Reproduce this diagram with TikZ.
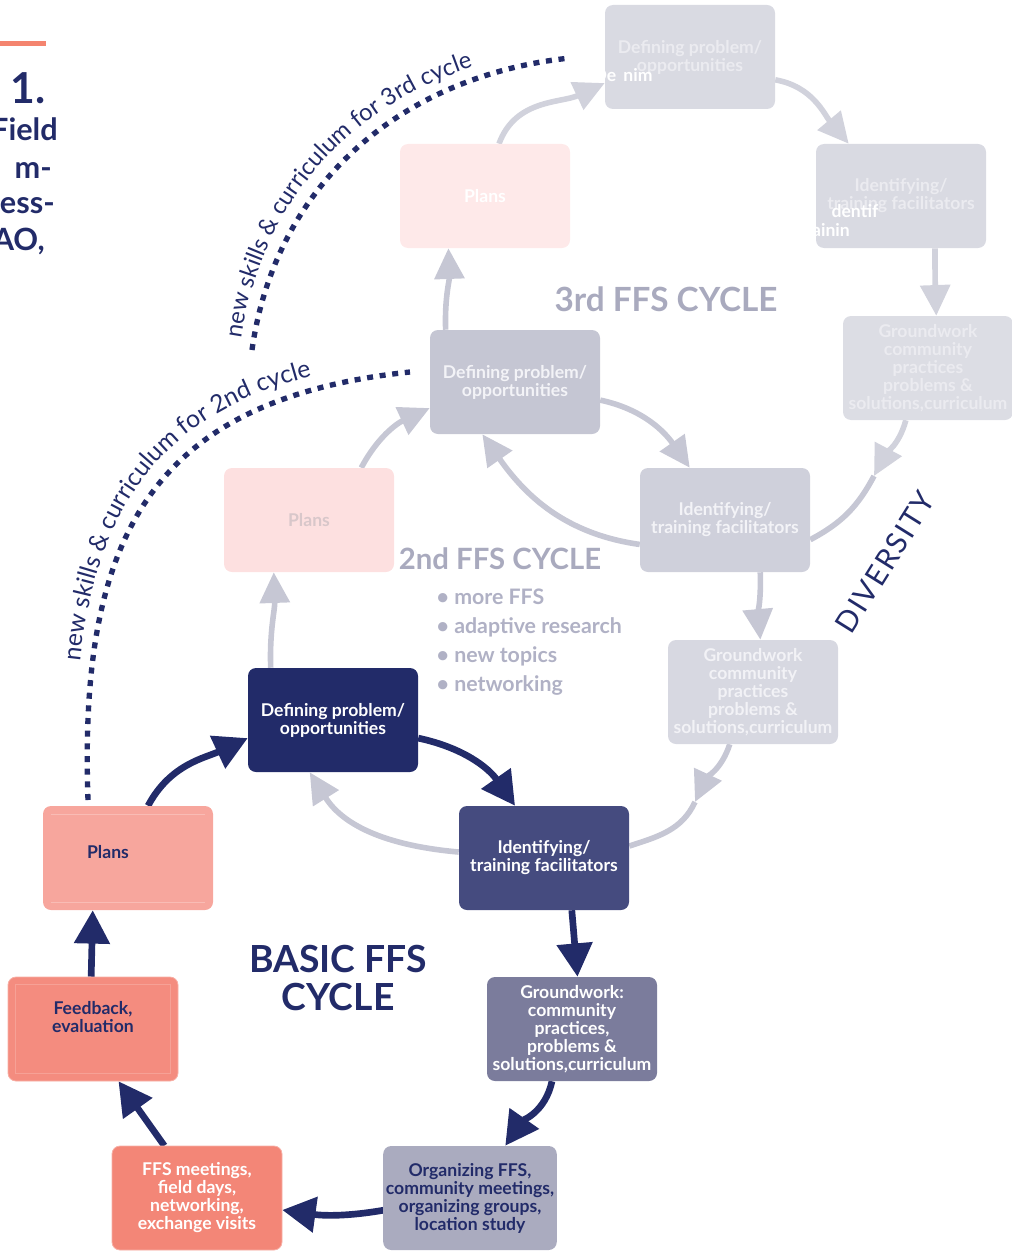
\documentclass[tikz,border=0pt]{standalone}
\usepackage{fontspec}
\setmainfont{Lato}
\usetikzlibrary{arrows.meta,decorations.text,calc}

\definecolor{navy}{HTML}{222B69}
\definecolor{identblue}{HTML}{454B7F}
\definecolor{groundgray}{HTML}{7B7C9C}
\definecolor{orggray}{HTML}{AAABBF}
\definecolor{ffscoral}{HTML}{F38677}
\definecolor{feedcoral}{HTML}{F48C7F}
\definecolor{planspink}{HTML}{F7A69D}
\definecolor{ringgray}{HTML}{C6C7D4}
\definecolor{ringpale}{HTML}{D1D2DC}
\definecolor{accentline}{HTML}{F4846F}
\definecolor{cyclegray}{HTML}{A9AABE}
\definecolor{bulletgray}{HTML}{B0B1C5}
\definecolor{thirdbox}{HTML}{D9DAE2}
\definecolor{thirdtext}{HTML}{EBEBF0}
\definecolor{thirdpink}{HTML}{FEE9E9}
\definecolor{secdef}{HTML}{C5C6D3}
\definecolor{secident}{HTML}{CFD0DB}
\definecolor{secground}{HTML}{D7D8E1}
\definecolor{secpink}{HTML}{FDE0E0}
\definecolor{secpinktext}{HTML}{D8C7CA}
\definecolor{sectext}{HTML}{F3F3F7}

\newcommand\ffsboxfont{\bfseries\fontsize{13.2}{13.5}\selectfont}
\newcommand\skillfont{\fontsize{18.5}{18.5}\selectfont\color{navy}}
\newcommand\skillfontb{\fontsize{17.8}{17.8}\selectfont\color{navy}}

\tikzset{
  box/.style={rectangle, rounded corners=6pt, minimum width=127.5pt,
    minimum height=78pt, inner sep=2pt, align=center, font=\ffsboxfont},
  navyarrow/.style={draw=navy, line width=5pt,
    -{Triangle[length=25pt,width=26pt]}},
  ringarrow/.style={draw=ringgray, line width=4.2pt,
    -{Triangle[length=23pt,width=22pt]}},
  ringline/.style={draw=ringgray, line width=4.2pt},
  palearrow/.style={draw=ringpale, line width=4.2pt,
    -{Triangle[length=23pt,width=22pt]}},
  paleline/.style={draw=ringpale, line width=4.2pt},
  skilldots/.style={draw=navy, line width=4pt, dash pattern=on 4.5pt off 5pt},
  cycletitle/.style={font=\bfseries\fontsize{#1}{#1}\selectfont, text=cyclegray},
  bullet/.style={anchor=base west, font=\bfseries\fontsize{16}{16}\selectfont, text=bulletgray},
  scrap/.style={font=\ffsboxfont, text=white, inner sep=0pt},
  heading/.style={anchor=base east, inner sep=0pt, text=navy,
    font=\bfseries\fontsize{#1}{#1}\selectfont},
}

\begin{document}
\begin{tikzpicture}[x=0.75pt, y=0.75pt]
\useasboundingbox (0,0) rectangle (1012,-1252);
\clip (0,0) rectangle (1012,-1252);

% ---------- box places of the three cycles ----------
\node[box] (tdef) at (690,-57) {};
\node[box] (tident) at (901,-196) {};
\node[box] (tground) at (928,-368) {};
\node[box] (tplans) at (485,-196) {};

\node[box] (sdef) at (515,-382) {};
\node[box] (sident) at (725,-520) {};
\node[box] (sground) at (753,-692) {};
\node[box] (splans) at (309,-520) {};

\node[box] (bdef) at (333,-720) {};
\node[box] (bident) at (544,-858) {};
\node[box] (bground) at (572,-1029) {};
\node[box] (borg) at (470,-1198) {};
\node[box] (bffs) at (197,-1198) {};
\node[box] (bfeed) at (93,-1029) {};
\node[box] (bplans) at (128,-858) {};

% free ends of the rings and of the dotted links
\coordinate (c2) at (695,-802);
\coordinate (c3) at (874,-476);
\coordinate (d2s) at (88,-800);
\coordinate (d2e) at (410,-372);
\coordinate (d3s) at (252,-350);
\coordinate (d3e) at (570,-58);

% ---------- third ring ----------
\draw[palearrow] (tplans.75) to[out=70,in=205] (tdef.197);
\draw[palearrow] (tdef.-15) to[out=-10,in=130] (tident.135);
\draw[palearrow] (tident.-57) to[out=-90,in=92] (tground.81);
\draw[palearrow] (tground.-113) to[out=-105,in=62] (c3);
\draw[ringline] (c3) to[out=-118,in=28] (sident.-13);
\draw[ringarrow] (sident.196) to[out=172,in=-55] (sdef.-122);
\draw[ringarrow] (sdef.143) to[out=92,in=-88] (tplans.-125);

% ---------- second ring ----------
\draw[ringarrow] (splans.45) to[out=62,in=205] (sdef.197);
\draw[ringarrow] (sdef.-12) to[out=-12,in=125] (sident.124);
\draw[ringarrow] (sident.-56) to[out=-88,in=95] (sground.82);
\draw[ringarrow] (sground.-114) to[out=-108,in=65] (c2);
\draw[ringline] (c2) to[out=-115,in=18] (bident.8);
\draw[ringarrow] (bident.176) to[out=175,in=-58] (bdef.-114);
\draw[ringarrow] (bdef.140) to[out=92,in=-88] (splans.-124);

% ---------- faded boxes drawn over their rings ----------
\node[box, fill=thirdbox, text=thirdtext] at (tdef) {Defining problem/\\opportunities};
\node[box, fill=thirdbox, text=thirdtext] at (tident) {Identifying/\\training facilitators};
\node[box, fill=thirdbox!92!white, text=thirdtext] at (tground) {Groundwork\\community\\practices\\problems \&\\solutions,curriculum};
\node[box, fill=thirdpink, text=white] at (tplans) {Plans};

\node[box, fill=secdef, text=sectext] at (sdef) {Defining problem/\\opportunities};
\node[box, fill=secident, text=sectext] at (sident) {Identifying/\\training facilitators};
\node[box, fill=secground, text=sectext!96!secground] at (sground) {Groundwork\\community\\practices\\problems \&\\solutions,curriculum};
\node[box, fill=secpink, text=secpinktext] at (splans) {Plans};

% scraps of white lettering
\node[scrap] (scrapA) at (605,-75) {De};
\node[scrap] (scrapB) at (638,-75) {nim};
\node[scrap] (scrapC) at (855,-211) {dentif};
\node[scrap] (scrapD) at (831,-230) {ainin};

% ---------- dotted links to the next cycles ----------
\draw[skilldots] (d2s) to[out=92,in=186,looseness=1.25] (d2e);
\path[decorate, decoration={text along path,
    text={|\skillfont|new skills {\&} curriculum for 2nd cycle},
    text align={left indent=96pt}}]
  ($(d2s)+(-11,11)$) to[out=92,in=186,looseness=1.25] ($(d2e)+(-11,11)$);

\draw[skilldots] (d3s) to[out=82,in=186] (d3e);
\path[decorate, decoration={text along path,
    text={|\skillfontb|new skills {\&} curriculum for 3rd cycle},
    text align={left indent=2pt}}]
  ($(d3s)+(-11,9)$) to[out=82,in=186] ($(d3e)+(-11,9)$);

% ---------- basic cycle ----------
\draw[navyarrow] (bplans.69) to[out=62,in=205] (bdef.192);
\draw[navyarrow] (bdef.-12) to[out=-12,in=125] (bident.119);
\draw[navyarrow] (bident.-62) to[out=-85,in=95] (bground.84);
\draw[navyarrow] (bground.-111) to[out=-102,in=55] (borg.56);
\draw[navyarrow] (borg.188) to[out=190,in=-8] (bffs.-8);
\draw[navyarrow] (bffs.122) -- (bfeed.-64);
\draw[navyarrow] (bfeed.92) -- (bplans.-124);

\node[box, fill=navy, text=white] at (bdef) {Defining problem/\\opportunities};
\node[box, fill=identblue, text=white] at (bident) {Identifying/\\training facilitators};
\node[box, fill=groundgray, text=white] at (bground) {Groundwork:\\community\\practices,\\problems \&\\solutions,curriculum};
\node[box, fill=orggray, text=navy] at (borg) {Organizing FFS,\\community meetings,\\organizing groups,\\location study};
\node[box, fill=ffscoral, draw=ffscoral!65!white, line width=0.6pt, text=white] at (bffs) {FFS meetings,\\field days,\\networking,\\exchange visits};
\node[box, fill=feedcoral, draw=feedcoral!70!white, line width=0.6pt, text=navy] at (bfeed) {Feedback,\\evaluation\\[4pt]};
\node[box, fill=planspink] at (bplans) {};
\node[font=\ffsboxfont, text=navy] (planstext) at ($(bplans)+(-20,6)$) {Plans};

% fine lines inside the pink boxes
\draw[draw=planspink!75!white, line width=0.6pt]
  ($(bplans.north west)+(8,-9)$) -- ($(bplans.north east)+(-8,-9)$);
\draw[draw=planspink!75!white, line width=0.6pt]
  ($(bplans.south west)+(8,8)$) -- ($(bplans.south east)+(-8,8)$);
\draw[draw=feedcoral!82!white, line width=0.6pt]
  ($(bfeed.north west)+(8,-8)$) rectangle ($(bfeed.south east)+(-8,8)$);

% ---------- titles ----------
\node[cycletitle=25] (t3) at (666,-299) {3rd FFS CYCLE};
\node[cycletitle=22] (t2) at (500,-559) {2nd FFS CYCLE};
\node[bullet] (l1) at (432,-604) {• more FFS};
\node[bullet] (l2) at (432,-633) {• adaptive research};
\node[bullet] (l3) at (432,-662) {• new topics};
\node[bullet] (l4) at (432,-691) {• networking};
\node[align=center, text=navy, font=\bfseries\fontsize{28}{28}\selectfont] (tb) at (338,-978) {BASIC FFS\\CYCLE};
\node[rotate=58, text=navy, font=\fontsize{22}{22}\selectfont\addfontfeature{LetterSpace=6}] (div) at (885,-562) {DIVERSITY};

% ---------- heading fragment at the top left ----------
\fill[accentline] (0,-41) rectangle (46,-46);
\node[heading=32] (h1) at (46,-104) {1.};
\node[heading=23] (h2) at (58,-141) {Field};
\node[heading=23] (h3) at (52,-178) {m-};
\node[heading=23] (h4) at (55,-214) {ess-};
\node[heading=23] (h5) at (45,-250) {AO,};
\end{tikzpicture}
\end{document}
